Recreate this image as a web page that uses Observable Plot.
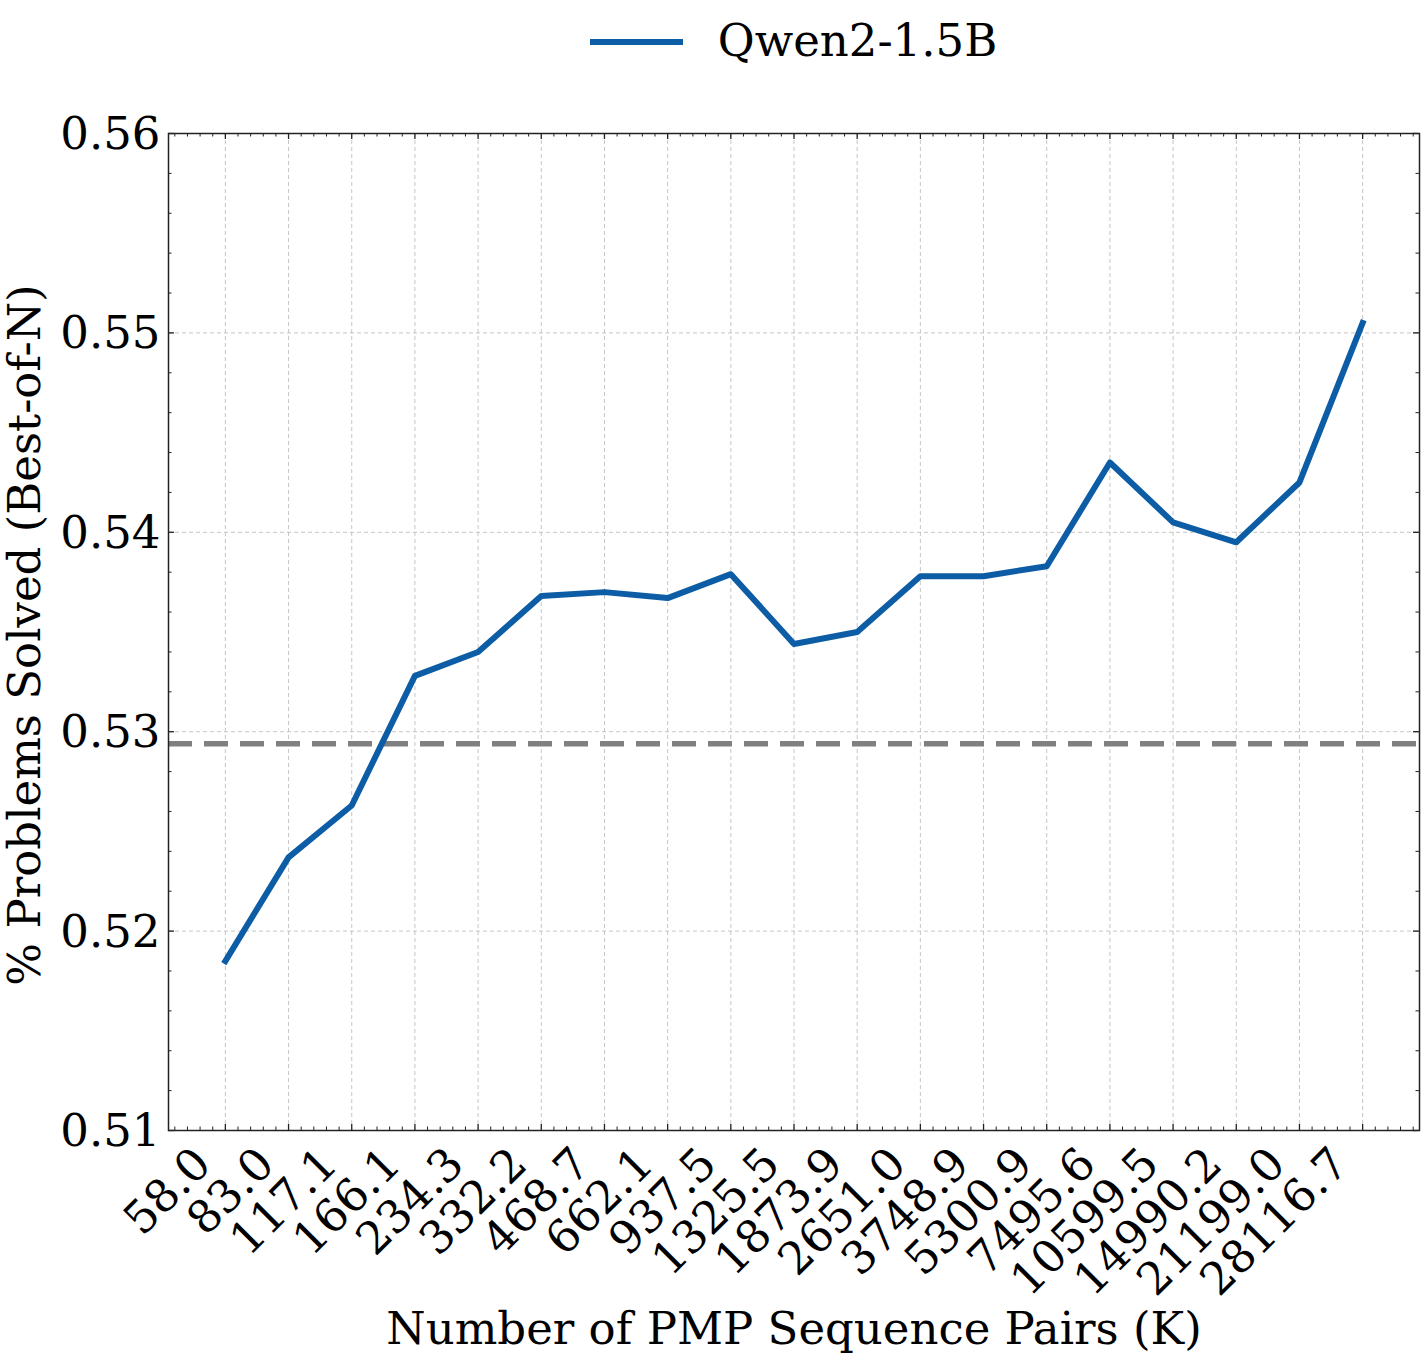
<!DOCTYPE html>
<html>
<head>
<meta charset="utf-8">
<script src="https://cdn.jsdelivr.net/npm/d3@7"></script>
<script src="https://cdn.jsdelivr.net/npm/@observablehq/plot@0.6"></script>
<style>
  html, body { margin: 0; padding: 0; background: #fff; }
  #legend {
    height: 90px; box-sizing: border-box;
    padding-left: 168px; padding-right: 7px; padding-bottom: 6px;
    display: flex; align-items: center; justify-content: center;
    font-family: "DejaVu Serif", serif; font-size: 45px; color: #000;
  }
  #legend .swatch { display: inline-block; width: 93px; height: 6px; background: #0C5DA5; margin-right: 35px; }
  #legend .lab { position: relative; top: -2px; }
  #chart svg { display: block; overflow: visible; }
  #chart svg text { font-family: "DejaVu Serif", serif; }
</style>
</head>
<body>
<div id="legend"><span class="swatch"></span><span class="lab">Qwen2-1.5B</span></div>
<div id="chart"></div>
<script>
// ---- data ----
const categories = ["58.0","83.0","117.1","166.1","234.3","332.2","468.7","662.1","937.5","1325.5",
  "1873.9","2651.0","3748.9","5300.9","7495.6","10599.5","14990.2","21199.0","28116.7"];
const seriesName = "Qwen2-1.5B";
const values = [0.5185, 0.5237, 0.5263, 0.5328, 0.5340, 0.5368, 0.5370, 0.5367, 0.5379, 0.5344,
  0.5350, 0.5378, 0.5378, 0.5383, 0.5435, 0.5405, 0.5395, 0.5425, 0.5505];
const baselineValue = 0.5294;
const yTicks = [0.51, 0.52, 0.53, 0.54, 0.55, 0.56];
const xLabel = "Number of PMP Sequence Pairs (K)";
const yLabel = "% Problems Solved (Best-of-N)";

// ---- derived ----
const data = categories.map((c, i) => ({i, label: c, value: values[i]}));
const xMajor = categories.map((c, i) => i);
const xMinor = d3.range(-4, 95).map(k => k / 5).filter(v => Math.abs(v - Math.round(v)) > 1e-9);
const yMinor = d3.range(255, 281).map(k => k / 500).filter(v => !yTicks.some(t => Math.abs(t - v) < 1e-9));

const W = 1426, H = 1268;
const mT = 43, mB = 228, mL = 168, mR = 7;
const pw = W - mL - mR, ph = H - mT - mB;
const ink = "#222";
const serif = "DejaVu Serif";
const majorLen = 6, minorLen = 3.5;

const chart = Plot.plot({
  width: W, height: H,
  marginTop: mT, marginBottom: mB, marginLeft: mL, marginRight: mR,
  style: {fontFamily: serif, color: "#000", background: "#fff", overflow: "visible"},
  x: {type: "linear", domain: [-0.9, 18.9], axis: null},
  y: {type: "linear", domain: [0.51, 0.56], axis: null},
  marks: [
    // grid
    Plot.ruleX(xMajor, {x: d => d, stroke: "#b8b8b8", strokeWidth: 0.8, strokeDasharray: "4,3"}),
    Plot.ruleY(yTicks.slice(1, -1), {y: d => d, stroke: "#b8b8b8", strokeWidth: 0.8, strokeDasharray: "4,3"}),
    // baseline
    Plot.ruleY([baselineValue], {y: d => d, stroke: "#808080", strokeWidth: 5.5, strokeDasharray: "24,12"}),
    // series
    Plot.line(data, {x: "i", y: "value", stroke: "#0C5DA5", strokeWidth: 6, strokeLinejoin: "round", strokeLinecap: "square"}),
    // frame
    Plot.frame({stroke: ink, strokeWidth: 1.5}),
    // inward ticks: x bottom & top
    Plot.tickX(xMajor, {x: d => d, stroke: ink, strokeWidth: 1.3, insetTop: ph - majorLen}),
    Plot.tickX(xMajor, {x: d => d, stroke: ink, strokeWidth: 1.3, insetBottom: ph - majorLen}),
    Plot.tickX(xMinor, {x: d => d, stroke: ink, strokeWidth: 1, insetTop: ph - minorLen}),
    Plot.tickX(xMinor, {x: d => d, stroke: ink, strokeWidth: 1, insetBottom: ph - minorLen}),
    // inward ticks: y left & right
    Plot.tickY(yTicks, {y: d => d, stroke: ink, strokeWidth: 1.3, insetRight: pw - majorLen}),
    Plot.tickY(yTicks, {y: d => d, stroke: ink, strokeWidth: 1.3, insetLeft: pw - majorLen}),
    Plot.tickY(yMinor, {y: d => d, stroke: ink, strokeWidth: 1, insetRight: pw - minorLen}),
    Plot.tickY(yMinor, {y: d => d, stroke: ink, strokeWidth: 1, insetLeft: pw - minorLen}),
    // y tick labels
    Plot.text(yTicks, {y: d => d, text: d => d.toFixed(2), frameAnchor: "left", textAnchor: "end", dx: -8, dy: 1, fontSize: 45, fontFamily: serif, fill: "#000"}),
    // x tick labels
    Plot.text(data, {x: "i", text: "label", frameAnchor: "bottom", rotate: -45, textAnchor: "end", lineAnchor: "bottom", dx: -12, dy: 36, fontSize: 45, fontFamily: serif, fill: "#000"}),
    // axis labels
    Plot.text([xLabel], {text: d => d, frameAnchor: "bottom", textAnchor: "middle", dy: 213, fontSize: 45, fontFamily: serif, fill: "#000"}),
    Plot.text([yLabel], {text: d => d, frameAnchor: "left", textAnchor: "middle", rotate: -90, dx: -143, dy: 3, fontSize: 45, fontFamily: serif, fill: "#000"})
  ]
});
document.getElementById("chart").appendChild(chart);
</script>
</body>
</html>
